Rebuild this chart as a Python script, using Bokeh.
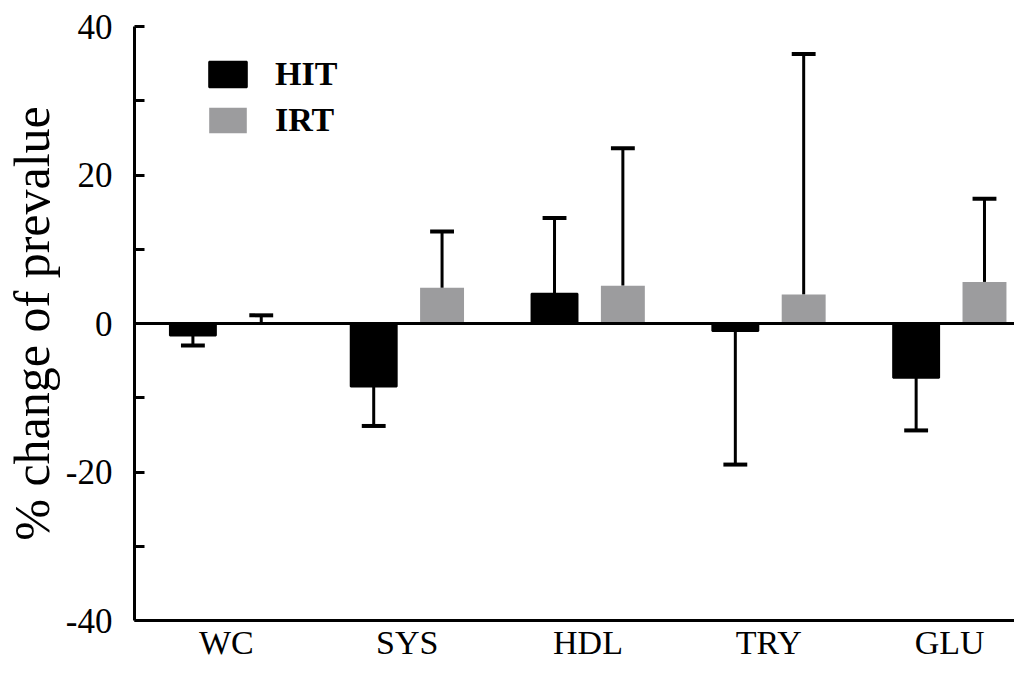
from bokeh.plotting import figure
from bokeh.models import Span, Legend, LegendItem, FixedTicker, Range1d, ColumnDataSource
from bokeh.embed import file_html
from bokeh.resources import INLINE

categories = ["WC", "SYS", "HDL", "TRY", "GLU"]
hit_mean = [-1.6, -8.5, 4.0, -1.0, -7.3]
hit_err = [1.35, 5.3, 10.2, 18.0, 7.1]
irt_mean = [0.1, 4.8, 5.1, 3.9, 5.6]
irt_err = [1.0, 7.6, 18.5, 32.4, 11.2]
y_ticks = [-40, -20, 0, 20, 40]
y_tick_labels = ["-40", "-20", "0", "20", "40"]
y_minor = [-30, -10, 10, 30]

HIT_COLOR = "#000000"
IRT_COLOR = "#9c9c9e"
FONT = "Liberation Serif"

idx = list(range(len(categories)))
off_hit, off_irt = -0.185, 0.193

def err_end(m, e):
    return m + e if m >= 0 else m - e

hit_src = ColumnDataSource(dict(
    x=[i + off_hit for i in idx], top=hit_mean,
    end=[err_end(m, e) for m, e in zip(hit_mean, hit_err)],
    x0=[i + off_hit - 0.066 for i in idx], x1=[i + off_hit + 0.066 for i in idx]))
irt_src = ColumnDataSource(dict(
    x=[i + off_irt for i in idx], top=irt_mean,
    end=[err_end(m, e) for m, e in zip(irt_mean, irt_err)],
    x0=[i + off_irt - 0.066 for i in idx], x1=[i + off_irt + 0.066 for i in idx]))

p = figure(width=1014, height=663, output_backend="svg", toolbar_location=None,
           x_range=Range1d(-0.508, 4.359), y_range=Range1d(-40, 40),
           min_border_left=133, min_border_right=0, min_border_top=26, min_border_bottom=40)
p.outline_line_color = None
p.xgrid.visible = False
p.ygrid.visible = False
p.background_fill_color = "white"
p.border_fill_color = "white"

# error bars (drawn first, bars cover stems)
for src in (hit_src, irt_src):
    p.segment(x0="x", y0="top", x1="x", y1="end", source=src, line_color="black", line_width=3)
    p.segment(x0="x0", y0="end", x1="x1", y1="end", source=src, line_color="black", line_width=4)

r_hit = p.vbar(x="x", top="top", bottom=0, width=0.254, source=hit_src,
               fill_color=HIT_COLOR, line_color="black", line_width=2)
r_irt = p.vbar(x="x", top="top", bottom=0, width=0.243, source=irt_src,
               fill_color=IRT_COLOR, line_color=None)

p.add_layout(Span(location=0, dimension="width", line_color="black", line_width=3))

# y axis
yax = p.yaxis[0]
yax.ticker = FixedTicker(ticks=y_ticks, minor_ticks=y_minor)
yax.major_label_overrides = {t: s for t, s in zip(y_ticks, y_tick_labels)}
yax.axis_line_width = 3
yax.axis_line_color = "black"
yax.major_tick_in = 10
yax.major_tick_out = 0
yax.minor_tick_in = 10
yax.minor_tick_out = 0
yax.major_tick_line_width = 3
yax.minor_tick_line_width = 3
yax.major_label_text_font = FONT
yax.major_label_text_font_size = "35px"
yax.major_label_text_color = "black"
yax.major_label_standoff = 22
yax.axis_label = "% change of prevalue"
yax.axis_label_text_font = FONT
yax.axis_label_text_font_style = "normal"
yax.axis_label_text_font_size = "50px"
yax.axis_label_text_color = "black"
yax.axis_label_standoff = 3

# x axis
xax = p.xaxis[0]
xax.ticker = FixedTicker(ticks=idx)
xax.major_label_overrides = {i: c for i, c in zip(idx, categories)}
xax.axis_line_width = 3
xax.axis_line_color = "black"
xax.major_tick_line_color = None
xax.minor_tick_line_color = None
xax.major_tick_in = 0
xax.major_tick_out = 0
xax.major_label_text_font = FONT
xax.major_label_text_font_size = "34px"
xax.major_label_text_color = "black"
xax.major_label_standoff = 3

legend = Legend(items=[LegendItem(label="HIT", renderers=[r_hit]),
                       LegendItem(label="IRT", renderers=[r_irt])],
                location=(70, 480), orientation="vertical",
                glyph_width=47, glyph_height=32, label_height=40, spacing=6,
                label_standoff=24, padding=0, margin=0,
                label_text_font=FONT, label_text_font_style="bold",
                label_text_font_size="34px", label_text_color="black",
                border_line_color=None, background_fill_alpha=0)
p.add_layout(legend)

open("out.html", "w").write(file_html(p, INLINE))
